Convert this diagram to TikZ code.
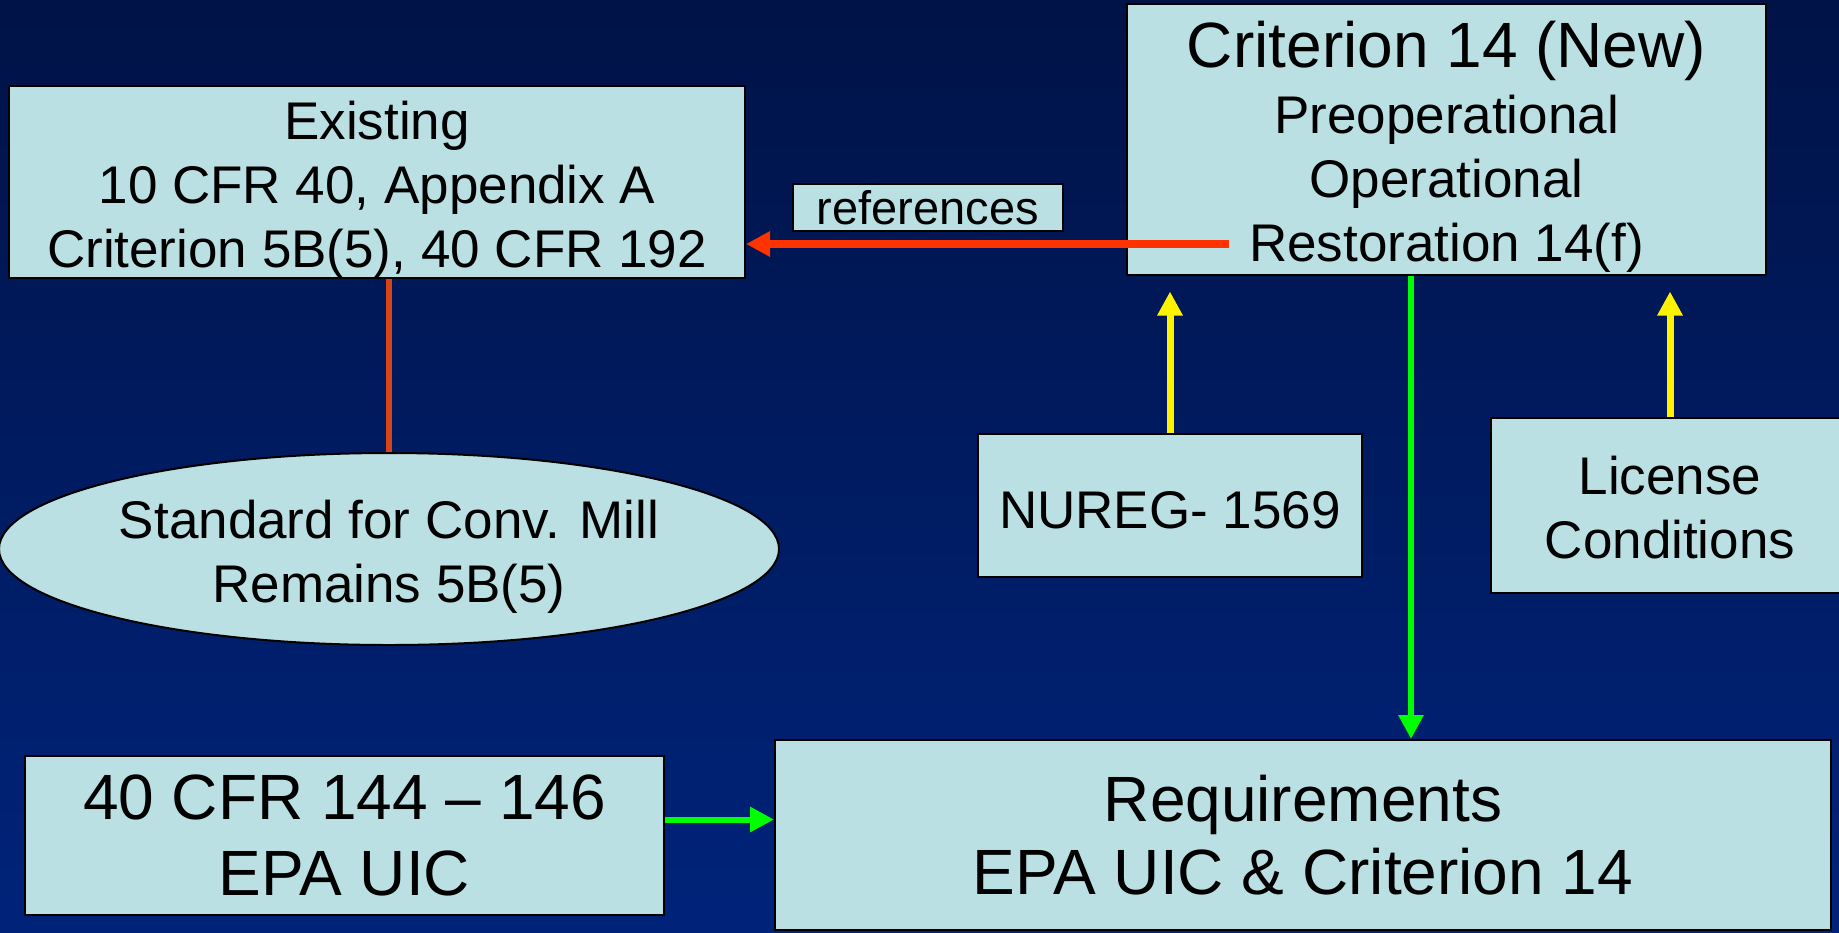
\documentclass[tikz,border=0pt]{standalone}
\usepackage{fontspec}
\setmainfont{Liberation Sans}
\usetikzlibrary{arrows.meta,shapes.geometric}
\definecolor{bgtop}{HTML}{001347}
\definecolor{bgbot}{HTML}{00237A}
\definecolor{boxfill}{HTML}{BAE0E3}
\definecolor{refred}{HTML}{FF3300}
\definecolor{linkred}{HTML}{D8441A}
\newcommand{\upstrut}[1]{\rule{0pt}{#1}}
\tikzset{
  >={Triangle[width=12pt,length=12pt]},
  infobox/.style={
    rectangle,
    fill=boxfill,
    draw=black, line width=1pt,
    align=center,
    inner sep=0pt,
    font=\fontsize{26.5}{32}\selectfont},
  bigbox/.style={infobox,
    font=\fontsize{32}{36.5}\selectfont},
  millshape/.style={ellipse, fill=boxfill, draw=black, line width=1pt,
    align=center, inner sep=0pt,
    minimum width=390pt, minimum height=96pt,
    font=\fontsize{26.5}{32}\selectfont},
  refline/.style={draw=refred, line width=4pt, ->},
  millline/.style={draw=linkred, line width=3pt},
  feedline/.style={draw=yellow, line width=3.5pt, ->},
  flowline/.style={draw=green, line width=3pt, ->},
}

\begin{document}
\begin{tikzpicture}[x=0.5pt,y=-0.5pt]
  % background
  \shade[top color=bgtop, bottom color=bgbot] (0,0) rectangle (1839,932);
  \useasboundingbox (0,0) rectangle (1839,932);
  % boxes
  \node[infobox, minimum width=368pt, minimum height=96pt] (exist) at (377,182)
    {\upstrut{26.5pt}Existing\\ 10 CFR 40, Appendix A\\ Criterion 5B(5), 40 CFR 192};
  \node[infobox, minimum width=319.5pt, minimum height=135.5pt] (crit) at (1446.5,139)
    {{\fontsize{32}{34}\selectfont\upstrut{31pt}Criterion 14 (New)}\\[1pt] Preoperational\\ Operational\\ Restoration 14(f)};
  \node[infobox, minimum width=135pt, minimum height=23.5pt,
    font=\fontsize{23.5}{26}\selectfont] (refs) at (928,207.5) {references};
  \node[millshape] (mill) at (389,549) {\upstrut{26.5pt}Standard for Conv. Mill\\ Remains 5B(5)};
  \node[infobox, minimum width=192pt, minimum height=71.5pt] (nureg) at (1170,505.5) {\upstrut{23pt}NUREG- 1569};
  \node[infobox, minimum width=179pt, minimum height=87.5pt] (lic) at (1670,505.5) {\upstrut{21.7pt}License\\ Conditions};
  \node[bigbox, minimum width=319.5pt, minimum height=79.5pt] (cfr) at (344.5,835.5) {40 CFR 144 -- 146\\[1.5pt] EPA UIC};
  \node[bigbox, minimum width=528pt, minimum height=95pt] (req) at (1303,835) {Requirements\\ EPA UIC \& Criterion 14};
  % connectors
  \coordinate (refstart) at (1229,244);
  \coordinate (drop) at (1411,0);
  \draw[refline] (refstart) -- (refstart -| exist.east);
  \draw[millline] (mill.north) -- (mill.north |- exist.south);
  \draw[feedline, shorten >=8pt] (nureg.north) -- (nureg.north |- crit.south);
  \draw[feedline, shorten >=8pt] (lic.north) -- (lic.north |- crit.south);
  \draw[flowline] (crit.south -| drop) -- (req.north -| drop);
  \draw[flowline] ([yshift=8pt]cfr.east) -- ([yshift=8pt]cfr.east -| req.west);
\end{tikzpicture}
\end{document}
